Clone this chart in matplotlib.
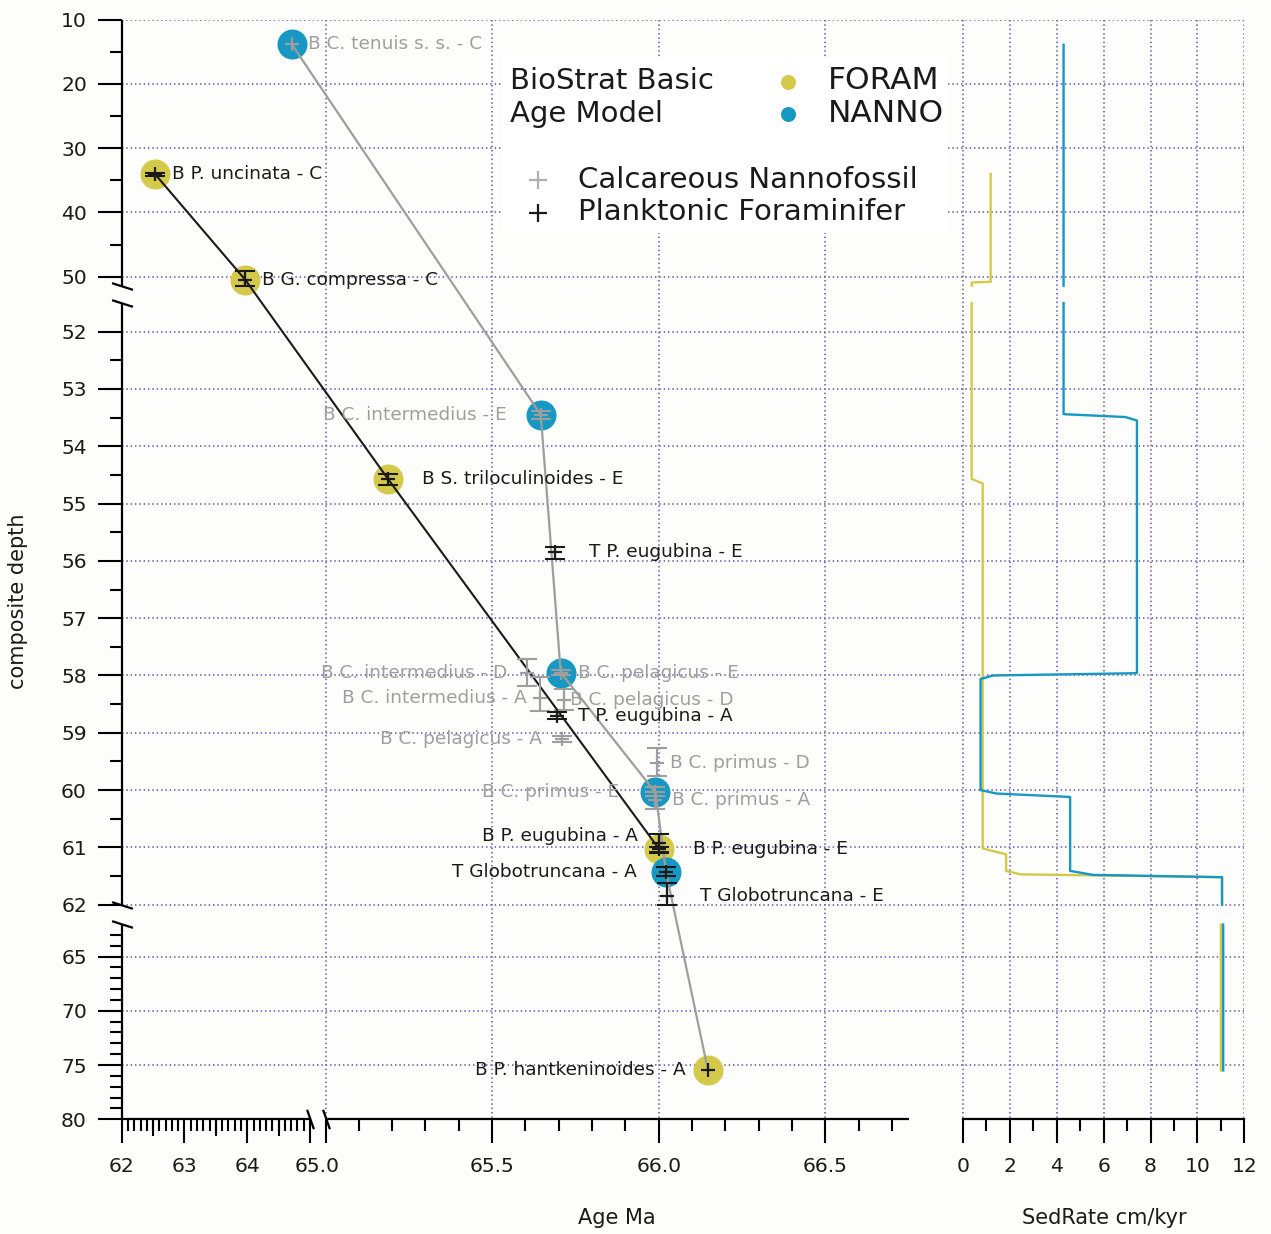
import numpy as np
import matplotlib
matplotlib.use("Agg")
import matplotlib.pyplot as plt
from matplotlib.lines import Line2D
from matplotlib.patches import Rectangle

plt.rcParams['font.family'] = ['DejaVu Sans']

# ---------------- data ----------------
# datums used by the age model (circles)
foram_age = [62.53, 63.97, 65.187, 66.0, 66.148]
foram_depth = [34.02, 50.5, 54.565, 61.02, 75.5]
nanno_age = [64.71, 65.646, 65.706, 65.99, 66.022]
nanno_depth = [13.83, 53.45, 57.95, 60.04, 61.43]

# age model lines
foram_model_age = [62.53, 63.97, 65.187, 66.0]
foram_model_depth = [34.02, 50.5, 54.565, 61.02]
nanno_model_age = [64.71, 65.646, 65.706, 65.99, 66.022, 66.148]
nanno_model_depth = [13.83, 53.45, 57.95, 60.04, 61.43, 75.5]

# bio events (plus + depth range)
nanno_events = ["B C. tenuis s. s. - C", "B C. intermedius - E", "B C. intermedius - D",
                "B C. intermedius - A", "B C. pelagicus - E", "B C. pelagicus - D",
                "B C. pelagicus - A", "B C. primus - D", "B C. primus - E", "B C. primus - A"]
nanno_ev_age = [64.71, 65.646, 65.604, 65.644, 65.706, 65.716, 65.709, 65.994, 65.99, 65.99]
nanno_ev_depth = [13.83, 53.45, 57.95, 58.40, 57.95, 58.42, 59.11, 59.52, 60.03, 60.18]
nanno_ev_top = [13.83, 53.39, 57.72, 58.03, 57.91, 58.24, 59.06, 59.27, 59.95, 60.03]
nanno_ev_bot = [13.83, 53.52, 58.18, 58.62, 58.00, 58.60, 59.16, 59.76, 60.10, 60.33]

foram_events = ["B P. uncinata - C", "B G. compressa - C", "B S. triloculinoides - E",
                "T P. eugubina - E", "T P. eugubina - A", "B P. eugubina - A",
                "B P. eugubina - E", "T Globotruncana - A", "T Globotruncana - E",
                "B P. hantkeninoides - A"]
foram_ev_age = [62.53, 63.97, 65.187, 65.69, 65.694, 66.0, 66.0, 66.022, 66.024, 66.148]
foram_ev_depth = [34.02, 50.5, 54.565, 55.85, 58.70, 60.92, 61.02, 61.43, 61.84, 75.5]
foram_ev_top = [33.80, 49.1, 54.48, 55.76, 58.64, 60.77, 60.99, 61.34, 61.63, 75.5]
foram_ev_bot = [34.25, 51.4, 54.67, 55.96, 58.76, 61.08, 61.10, 61.50, 62.00, 75.5]

# sedimentation rates (NaN = axis break)
nanno_sed_depth = [13.9, 51.4, np.nan,
                   51.5, 53.44, 53.49, 53.55, 57.96, 58.0, 58.06, 60.0, 60.06, 60.12,
                   61.41, 61.48, 61.52, 62.0, np.nan,
                   62.05, 75.5]
nanno_sed_rate = [4.29, 4.29, np.nan,
                  4.29, 4.29, 6.92, 7.42, 7.42, 1.29, 0.75, 0.75, 1.43, 4.57,
                  4.57, 5.55, 11.05, 11.05, np.nan,
                  11.1, 11.1]
foram_sed_depth = [34.0, 50.8, 50.9, 51.4, np.nan,
                   51.5, 54.57, 54.65, 61.02, 61.12, 61.41, 61.47, 61.52, 62.0, np.nan,
                   62.05, 75.5]
foram_sed_rate = [1.18, 1.18, 0.37, 0.37, np.nan,
                  0.37, 0.37, 0.84, 0.84, 1.84, 1.84, 2.44, 11.05, 11.05, np.nan,
                  11.0, 11.0]

y_major = [10, 20, 30, 40, 50] + list(range(52, 63)) + [65, 70, 75, 80]
y_minor = [15, 25, 35, 45] + [52.5 + i for i in range(10)] + \
          [v for v in range(63, 80) if v % 5 != 0]
x_major_labels = ['62', '63', '64', '', '', '65.5', '66.0', '66.5']

# ---------------- layout ----------------
W, H = 1271, 1234
YEL = '#d4c94a'
BLU = '#1797c4'
GRAY = '#9e9e9e'
INK = '#1a1a1a'
GRID = '#7a68b5'
DOTS = (0, (0.8, 1.6))

# broken axes: piecewise linear mapping data -> pixel
Y_KNOTS = [10, 51.4, 51.5, 62.0, 62.001, 80]
Y_PIX = [19.7, 285.7, 303.0, 904.7, 924.0, 1119.3]
X_KNOTS = [62, 65.0, 65.0001, 66.862]
X_PIX = [121.7, 310.0, 325.5, 946.0]
X_B2 = 65.0001


def piecewise(knots, pix):
    k = np.asarray(knots, float)
    p = np.asarray(pix, float)
    s0 = (p[1] - p[0]) / (k[1] - k[0])
    s1 = (p[-1] - p[-2]) / (k[-1] - k[-2])
    k = np.concatenate([[k[0] - 1e4], k, [k[-1] + 1e4]])
    p = np.concatenate([[p[0] - 1e4 * s0], p, [p[-1] + 1e4 * s1]])
    return (lambda v: np.interp(v, k, p)), (lambda v: np.interp(v, p, k))


yf, yi = piecewise(Y_KNOTS, Y_PIX)
xf, xi = piecewise(X_KNOTS, X_PIX)


def fx(px):
    return px / W


def fy(py):
    return 1 - py / H


fig = plt.figure(figsize=(W / 100, H / 100), dpi=100)
fig.patch.set_facecolor('#fdfdfb')

ax = fig.add_axes([fx(121.7), fy(1119.3), fx(946) - fx(121.7), fy(19.7) - fy(1119.3)])
ax.set_facecolor('none')
ax.set_xscale('function', functions=(xf, xi))
ax.set_yscale('function', functions=(yf, yi))

axr = fig.add_axes([fx(948), fy(1119.3), fx(1244.3) - fx(948), fy(19.7) - fy(1119.3)])
axr.set_facecolor('none')
axr.set_yscale('function', functions=(yf, yi))

# grid
grid_y = y_major[:-1]
ax.hlines(grid_y, 62, 66.862, colors=GRID, linestyles=DOTS, lw=1.3, zorder=0.5)
ax.vlines([X_B2, 65.5, 66.0, 66.5], 10, 80, colors=GRID, linestyles=DOTS, lw=1.3, zorder=0.5)
axr.hlines(grid_y, -0.64, 12, colors=GRID, linestyles=DOTS, lw=1.3, zorder=0.5)
axr.vlines(range(0, 13, 2), 10, 80, colors=GRID, linestyles=DOTS, lw=1.3, zorder=0.5)

# legend background
ax.add_patch(Rectangle((fx(503), fy(233)), fx(947) - fx(503), fy(57) - fy(233),
                       transform=fig.transFigure, facecolor='white', edgecolor='none',
                       zorder=1.5, clip_on=False))

# broken axis lines
for s in ax.spines.values():
    s.set_visible(False)
yax = ax.get_yaxis_transform()
xax = ax.get_xaxis_transform()
for a, b in [(10, 51.4), (51.5, 62.0), (62.001, 80)]:
    ax.plot([0, 0], [a, b], transform=yax, color='k', lw=1.6, clip_on=False,
            solid_capstyle='butt', zorder=5)
for a, b in [(62, 65.0), (X_B2, 66.75)]:
    ax.plot([a, b], [0, 0], transform=xax, color='k', lw=1.6, clip_on=False,
            solid_capstyle='butt', zorder=5)
ax.plot([0] * 4, [51.4, 51.5, 62.0, 62.001], transform=yax, ls='none',
        marker=[(-1, 0.32), (1, -0.32)], ms=15, mew=1.6, mec='k', mfc='none',
        clip_on=False, zorder=5)
ax.plot([65.0, X_B2], [0, 0], transform=xax, ls='none',
        marker=[(-0.35, 1), (0.35, -1)], ms=14, mew=1.6, mec='k', mfc='none',
        clip_on=False, zorder=5)

# ticks
ax.set_yticks(y_major)
ax.set_yticklabels([str(v) for v in y_major])
ax.set_yticks(y_minor, minor=True)
ax.set_xticks([62, 63, 64, 65.0, X_B2, 65.5, 66.0, 66.5])
ax.set_xticklabels(x_major_labels)
x_minor = [round(62 + 0.1 * i, 1) for i in range(1, 30) if i % 10 != 0] + \
          [round(65 + 0.1 * i, 1) for i in range(1, 18) if i % 5 != 0]
ax.set_xticks(x_minor, minor=True)
ax.tick_params(which='major', direction='out', length=17, width=1.5, labelsize=14.6,
               colors='k', labelcolor=INK, top=False, right=False)
ax.tick_params(which='minor', direction='out', length=8.5, width=1.5, top=False, right=False)
ax.tick_params(axis='y', which='major', pad=8)
ax.tick_params(axis='x', which='major', pad=10)
ax.plot([62.5, 63.5, 64.5], [0, 0, 0], transform=xax, ls='none', marker=3, ms=12,
        mew=1.5, color='k', clip_on=False, zorder=5)
fig.text(fx(317.5), fy(1167), '65.0', ha='center', va='center', size=14.6, color=INK)

for s in ['top', 'right', 'left']:
    axr.spines[s].set_visible(False)
axr.spines['bottom'].set_bounds(0, 12)
axr.spines['bottom'].set_linewidth(1.6)
axr.set_xticks(range(0, 13, 2))
axr.set_xticks(range(1, 12, 2), minor=True)
axr.set_yticks([])
axr.tick_params(which='major', direction='out', length=17, width=1.5, labelsize=14.6,
                labelcolor=INK, pad=10)
axr.tick_params(which='minor', direction='out', length=8.5, width=1.5)

# ---------------- marks ----------------
ax.plot(foram_age, foram_depth, 'o', ms=21.6, color=YEL, mec='none', zorder=2)
ax.plot(nanno_age, nanno_depth, 'o', ms=21.6, color=BLU, mec='none', zorder=2)
ax.plot(foram_model_age, foram_model_depth, color=INK, lw=1.5, zorder=2.5)
ax.plot(nanno_model_age, nanno_model_depth, color=GRAY, lw=1.6, zorder=2.5)

label_dx = {
    "B C. tenuis s. s. - C": (16, 0), "B C. intermedius - E": (-34, 0),
    "B C. intermedius - D": (-20, 0), "B C. intermedius - A": (-13, 0),
    "B C. pelagicus - E": (17, 0), "B C. pelagicus - D": (6, 0),
    "B C. pelagicus - A": (-20, 0), "B C. primus - D": (13, 0),
    "B C. primus - E": (-36, 0), "B C. primus - A": (17, 0),
    "B P. uncinata - C": (17, 0), "B G. compressa - C": (17, 0),
    "B S. triloculinoides - E": (34, 0), "T P. eugubina - E": (34, 0),
    "T P. eugubina - A": (21, 0), "B P. eugubina - A": (-21, 7),
    "B P. eugubina - E": (34, 0), "T Globotruncana - A": (-29, 0),
    "T Globotruncana - E": (33, 0), "B P. hantkeninoides - A": (-22, 0),
}

for names, age, dep, top, bot, col, z in [
        (nanno_events, nanno_ev_age, nanno_ev_depth, nanno_ev_top, nanno_ev_bot, GRAY, 3),
        (foram_events, foram_ev_age, foram_ev_depth, foram_ev_top, foram_ev_bot, INK, 3.2)]:
    age = np.array(age)
    dep = np.array(dep)
    top = np.array(top)
    bot = np.array(bot)
    has = (bot - top) > 0
    ax.errorbar(age[has], dep[has], yerr=[dep[has] - top[has], bot[has] - dep[has]],
                fmt='none', ecolor=col, elinewidth=1.5, capsize=7.2, capthick=1.5, zorder=z)
    ax.plot(age, dep, '+', ms=10, mew=1.6, color=col, zorder=z)
    for n, a, d in zip(names, age, dep):
        dx, dy = label_dx[n]
        ax.annotate(n, (a, d), xytext=(dx, dy), textcoords='offset pixels',
                    ha='left' if dx > 0 else 'right', va='center', size=13.3,
                    color=col, zorder=4)

axr.plot(foram_sed_rate, foram_sed_depth, color=YEL, lw=1.7, zorder=2)
axr.plot(nanno_sed_rate, nanno_sed_depth, color=BLU, lw=1.7, zorder=2.2)

# ---------------- legend ----------------
fig.text(fx(510), fy(89.3), 'BioStrat Basic', size=21, color=INK, va='baseline')
fig.text(fx(510), fy(121.7), 'Age Model', size=21, color=INK, va='baseline')
fig.text(fx(828), fy(89.3), 'FORAM', size=22.5, color=INK, va='baseline')
fig.text(fx(828), fy(121.7), 'NANNO', size=22.5, color=INK, va='baseline')
fig.text(fx(578), fy(188.3), 'Calcareous Nannofossil', size=21, color=INK, va='baseline')
fig.text(fx(578), fy(220), 'Planktonic Foraminifer', size=21, color=INK, va='baseline')
fig.add_artist(Line2D([fx(788)], [fy(82)], marker='o', ms=10.8, color=YEL, mec='none',
                      ls='none', transform=fig.transFigure))
fig.add_artist(Line2D([fx(788)], [fy(114)], marker='o', ms=10.8, color=BLU, mec='none',
                      ls='none', transform=fig.transFigure))
fig.add_artist(Line2D([fx(538)], [fy(180)], marker='+', ms=13, mew=1.6, color='#b0b0b0',
                      ls='none', transform=fig.transFigure))
fig.add_artist(Line2D([fx(538)], [fy(213)], marker='+', ms=13, mew=1.6, color=INK,
                      ls='none', transform=fig.transFigure))

# axis titles
fig.text(fx(18), fy(601), 'composite depth', rotation=90, ha='center', va='center',
         size=15, color=INK)
fig.text(fx(617), fy(1218), 'Age Ma', ha='center', va='center', size=15, color=INK)
fig.text(fx(1104), fy(1218), 'SedRate cm/kyr', ha='center', va='center', size=15, color=INK)

ax.set_xlim(62, 66.862)
ax.set_ylim(80, 10)
axr.set_xlim(-0.64, 12)
axr.set_ylim(80, 10)

fig.savefig('out.png', dpi=100, facecolor=fig.get_facecolor())
